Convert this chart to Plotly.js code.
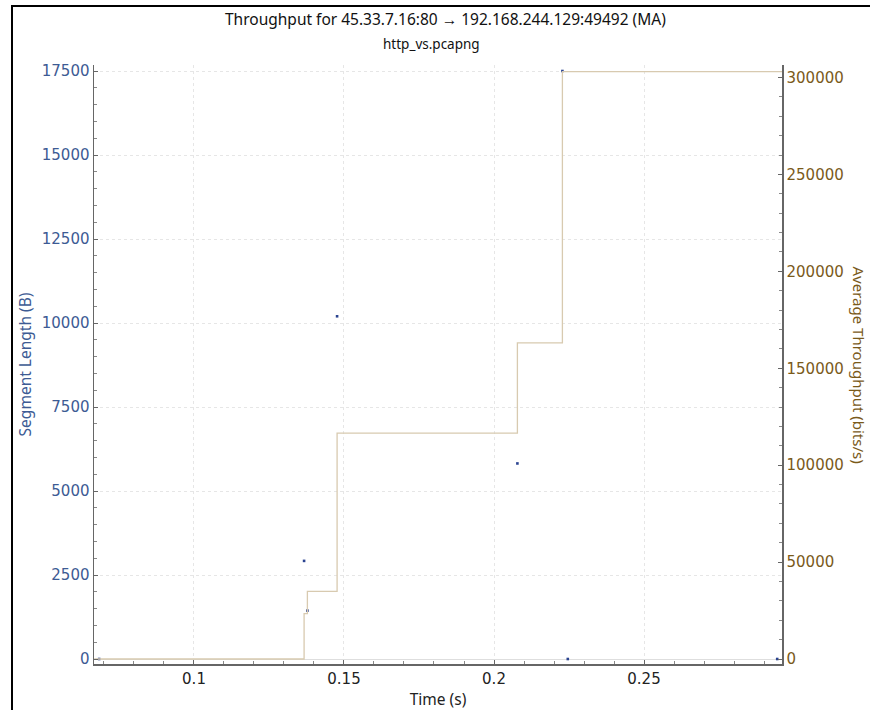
<!DOCTYPE html>
<html>
<head>
<meta charset="utf-8">
<script src="https://cdn.plot.ly/plotly-3.0.1.min.js"></script>
<style>
  html, body { margin: 0; padding: 0; background: #fff; }
  #wrap { position: relative; width: 870px; height: 710px; overflow: hidden; }
  #chart { position: absolute; left: 0; top: 0; width: 870px; height: 710px; }
  #frame { position: absolute; left: 11px; top: 5px; width: 900px; height: 800px;
           border-left: 2px solid #000; border-top: 2px solid #000; pointer-events: none; }
</style>
</head>
<body>
<div id="wrap">
  <div id="chart"></div>
  <div id="frame"></div>
</div>
<script>
// Segment length scatter (time in s, length in bytes)
const segTime   = [0.0684, 0.1367, 0.1378, 0.1477, 0.2078, 0.2228, 0.2246, 0.2944];
const segLength = [0, 2920, 1440, 10200, 5820, 17500, 0, 0];

// Moving-average throughput step line (time in s, bits/s)
const tpTime  = [0.0667, 0.1367, 0.1378, 0.1477, 0.2078, 0.2228, 0.2960];
const tpValue = [0, 23360, 34880, 116480, 163072, 303072, 303072];

const titleLine1 = "Throughput for 45.33.7.16:80 \u2192 192.168.244.129:49492 (MA)";
const titleLine2 = "http_vs.pcapng";

const blue  = "#3d5b94";
const brown = "#7a5a1a";
const tickFont = "DejaVu Sans, Verdana, sans-serif";
const textFont = "Noto Sans, sans-serif";

const traces = [
  {
    x: tpTime, y: tpValue, yaxis: "y2", type: "scatter", mode: "lines",
    line: { shape: "hv", color: "#d8cab0", width: 1.3 },
    name: "Average Throughput", hoverinfo: "x+y"
  },
  {
    x: segTime, y: segLength, type: "scatter", mode: "markers",
    marker: { size: 2.6, color: "#2a4390", symbol: "square", line: { width: 0 } },
    name: "Segment Length", hoverinfo: "x+y"
  }
];

const layout = {
  width: 870, height: 710,
  margin: { l: 94, r: 88, t: 65, b: 46 },
  paper_bgcolor: "#ffffff", plot_bgcolor: "#ffffff",
  showlegend: false,
  font: { family: tickFont, size: 15, color: "#222" },
  xaxis: {
    range: [0.06667, 0.296], dtick: 0.05, tick0: 0,
    ticks: "inside", ticklen: 4, tickcolor: "#666", tickwidth: 1,
    minor: { dtick: 0.01, ticks: "inside", ticklen: 3, tickcolor: "#888", showgrid: false },
    showline: true, linecolor: "#666", linewidth: 1.5, mirror: false,
    showgrid: true, gridcolor: "#e6e6e6", griddash: "dot", gridwidth: 1,
    zeroline: false,
    tickfont: { family: tickFont, size: 15, color: "#222" },
    title: { text: "Time (s)", font: { family: textFont, size: 15.5, color: "#222" }, standoff: 9 }
  },
  yaxis: {
    range: [-148.8, 17678.6], dtick: 2500, tick0: 0, tickformat: "d",
    ticks: "inside", ticklen: 4, tickcolor: "#666",
    minor: { dtick: 500, ticks: "inside", ticklen: 3, tickcolor: "#888", showgrid: false },
    showline: true, linecolor: "#666", linewidth: 1.5,
    showgrid: true, gridcolor: "#e6e6e6", griddash: "dot", gridwidth: 1,
    zeroline: true, zerolinecolor: "#dedede", zerolinewidth: 1,
    tickfont: { family: tickFont, size: 15, color: blue },
    title: { text: "Segment Length (B)", font: { family: textFont, size: 15.5, color: blue }, standoff: 6 }
  },
  yaxis2: {
    overlaying: "y", side: "right",
    range: [-2580, 306450], dtick: 50000, tick0: 0, tickformat: "d",
    ticks: "inside", ticklen: 4, tickcolor: "#666",
    minor: { dtick: 10000, ticks: "inside", ticklen: 3, tickcolor: "#888", showgrid: false },
    showline: true, linecolor: "#666", linewidth: 1.5,
    showgrid: false, zeroline: false,
    tickfont: { family: tickFont, size: 15, color: brown }
  },
  annotations: [
    { text: titleLine1, xref: "paper", yref: "paper", x: 0.5109, y: 1, yshift: 46,
      showarrow: false, xanchor: "center", yanchor: "middle",
      font: { family: textFont, size: 15.5, color: "#111" } },
    { text: titleLine2, xref: "paper", yref: "paper", x: 0.4906, y: 1, yshift: 21,
      showarrow: false, xanchor: "center", yanchor: "middle",
      font: { family: textFont, size: 13.5, color: "#111" } },
    { text: "Average Throughput (bits/s)", xref: "paper", yref: "paper", x: 1, xshift: 77, y: 0.5,
      showarrow: false, xanchor: "center", yanchor: "middle", textangle: 90, borderpad: 0,
      font: { family: textFont, size: 15, color: brown } }
  ]
};

Plotly.newPlot("chart", traces, layout, { displayModeBar: false, staticPlot: true });
</script>
</body>
</html>
